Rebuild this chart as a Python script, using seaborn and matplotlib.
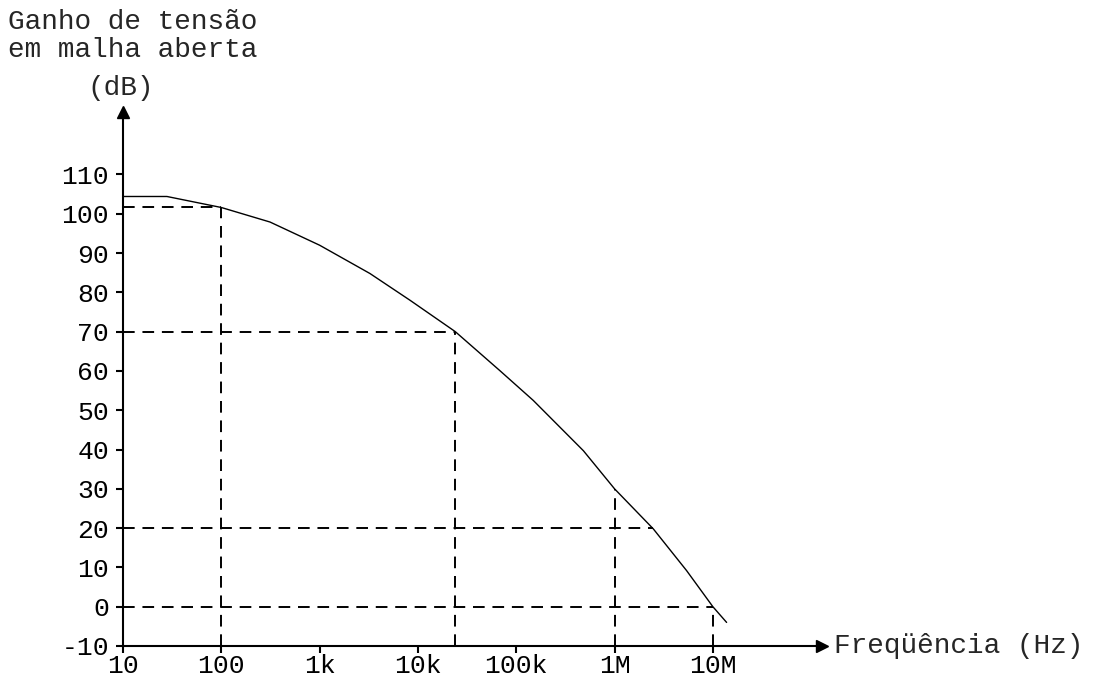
import matplotlib
matplotlib.use("Agg")
import matplotlib.pyplot as plt
import seaborn as sns
import pandas as pd

# Curve
freq_hz = [10, 28, 100, 313, 1000, 3250, 8300, 24000, 68000, 149000, 482000,
           1.0e6, 2.48e6, 5.4e6, 1.0e7, 1.38e7]
gain_db = [104.4, 104.4, 101.6, 97.9, 92.0, 84.8, 78.0, 70.0, 60.1, 52.5, 39.7,
           30.0, 19.8, 9.2, 0.0, -4.0]

# Dashed reference lines
h_gain = [101.6, 70, 20, 0]
h_freq = [100, 24000, 2.48e6, 1.0e7]
v_freq = [100, 24000, 1.0e6, 1.0e7]
v_gain = [101.6, 70, 30, 0]

x_ticks = [10, 100, 1e3, 1e4, 1e5, 1e6, 1e7]
x_labels = ["10", "100", "1k", "10k", "100k", "1M", "10M"]
y_ticks = list(range(-10, 111, 10))

sns.set_theme(style="white")
plt.rcParams["font.family"] = ["Liberation Mono", "DejaVu Sans Mono"]
FS_TICK = 19
FS_TEXT = 20

fig = plt.figure(figsize=(10.97, 6.83), dpi=100)
ax = fig.add_axes([0.1121, 0.0542, 0.6372, 0.7818])

df = pd.DataFrame({"f": freq_hz, "g": gain_db})
sns.lineplot(data=df, x="f", y="g", ax=ax, color="black", linewidth=1.0, sort=False)

ax.hlines(h_gain, 10, h_freq, colors="black", linestyles=(0, (6, 4)), linewidth=1.4)
ax.vlines(v_freq, -10, v_gain, colors="black", linestyles=(0, (6, 4)), linewidth=1.4)

ax.set_xscale("log")
ax.set_xlim(10, 10 ** 8.11)
ax.set_ylim(-10, 125.9)
ax.set_xticks(x_ticks)
ax.set_xticklabels(x_labels)
ax.set_yticks(y_ticks)
ax.set_yticklabels([str(v) for v in y_ticks])
ax.minorticks_off()
ax.set_xlabel("")
ax.set_ylabel("")

for s in ["top", "right"]:
    ax.spines[s].set_visible(False)
for s in ["left", "bottom"]:
    ax.spines[s].set_color("black")
    ax.spines[s].set_linewidth(1.5)
ax.tick_params(axis="both", direction="out", length=5, width=1.5, colors="black",
               labelsize=FS_TICK, bottom=True, left=True)
ax.tick_params(axis="x", pad=1)
ax.tick_params(axis="y", pad=5)

# axis arrowheads
ax.plot(1, 0, ">", color="black", markersize=8, transform=ax.transAxes, clip_on=False)
ax.plot(0, 1, "^", color="black", markersize=8, transform=ax.transAxes, clip_on=False)

fig.text(8 / 1097, 1 - 9 / 683, "Ganho de tensão\nem malha aberta", fontsize=FS_TEXT,
         ha="left", va="top", linespacing=1.08)
fig.text(121 / 1097, 1 - 88 / 683, "(dB)", fontsize=FS_TEXT, ha="center", va="center")
fig.text(834 / 1097, 1 - 646 / 683, "Freqüência (Hz)", fontsize=FS_TEXT, ha="left", va="center")

fig.savefig("out.png", dpi=100, facecolor="white")
